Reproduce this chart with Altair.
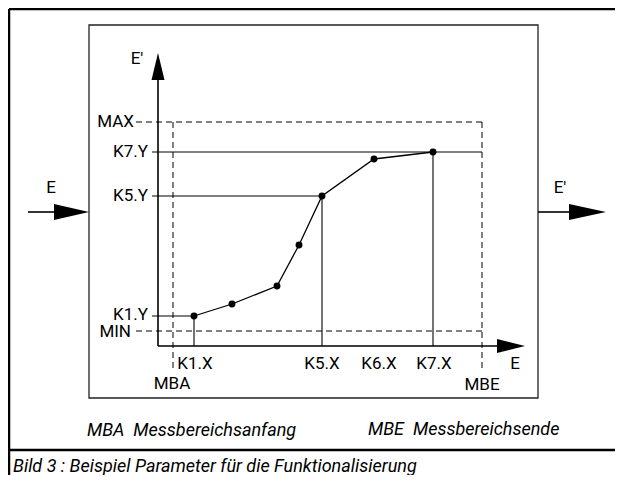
import altair as alt
import pandas as pd

# ---- chart coordinate system (diagram units, origin top-left) ----
W, H = 607, 467
X0, Y0 = 8, 8

# characteristic curve points K1..K7
curve_x = [194, 232, 277, 299, 322, 374, 433]
curve_y = [316, 304, 286, 245, 196, 159, 152]

# thin solid guide lines (x1, y1, x2, y2)
guide_x1 = [152, 152, 152, 194, 322, 433]
guide_y1 = [316, 196, 152, 316, 196, 152]
guide_x2 = [194, 322, 482, 194, 322, 433]
guide_y2 = [316, 196, 152, 346, 346, 346]

# axes and signal arrows shafts
axis_x1 = [158, 158, 28, 538]
axis_y1 = [346, 346, 212, 212]
axis_x2 = [158, 498, 54, 570]
axis_y2 = [80, 346, 212, 212]

# dashed limit lines MAX, MIN, MBA, MBE
dash_x1 = [136, 136, 173, 482]
dash_y1 = [122, 331, 122, 122]
dash_x2 = [482, 482, 173, 482]
dash_y2 = [122, 331, 370, 370]

# inner block box
box_x = [89]; box_y = [25]; box_x2 = [538]; box_y2 = [398]

# outer frame lines
frame_x1 = [9, 9, 9]
frame_y1 = [9, 9, 450]
frame_x2 = [9, 623, 623]
frame_y2 = [487, 9, 450]

# arrowheads pointing right: base x, tip x, centre y, half height
ah_base = [54, 569, 497]
ah_tip = [89, 606, 525]
ah_cy = [212, 212, 346]
ah_half = [8, 8, 7]
# arrowhead pointing up (E' axis)
av_base = 80; av_tip = 53; av_cx = 158; av_half = 6.5

# labels right aligned
rl_text = ["MAX", "K7.Y", "K5.Y", "K1.Y", "MIN"]
rl_x = [134, 148, 148, 148, 131]
rl_y = [122, 152, 196, 315, 332]
# labels centred
cl_text = ["E'", "E", "E'", "K1.X", "MBA", "K5.X", "K6.X", "K7.X", "E", "MBE"]
cl_x = [137, 51, 560, 195, 172, 322, 379, 434, 515, 482]
cl_y = [59, 188, 188, 364, 384, 364, 364, 364, 364, 385]
# italic notes
NB = "\u00a0"
it_text = ["MBA" + NB + " Messbereichsanfang", "MBE" + NB + " Messbereichsende",
           "Bild 3 : Beispiel Parameter für die Funktionalisierung"]
it_x = [87, 368, 13]
it_y = [431, 430, 467]

xs = alt.Scale(domain=[X0, X0 + W], nice=False, zero=False)
ys = alt.Scale(domain=[Y0, Y0 + H], nice=False, zero=False, reverse=True)

def X(f):
    return alt.X(f, type="quantitative", scale=xs, axis=None, stack=None)

def Y(f):
    return alt.Y(f, type="quantitative", scale=ys, axis=None, stack=None)

def segs(x1, y1, x2, y2):
    return pd.DataFrame({"x": x1, "y": y1, "x2": x2, "y2": y2})

FONT = "Roboto"
LS = 17   # label font size
IS = 18   # italic font size

frame = alt.Chart(segs(frame_x1, frame_y1, frame_x2, frame_y2)).mark_rule(
    color="black", strokeWidth=2.5).encode(x=X("x"), y=Y("y"), x2="x2", y2="y2")

box = alt.Chart(pd.DataFrame({"x": box_x, "y": box_y, "x2": box_x2, "y2": box_y2})).mark_rect(
    fill=None, stroke="#222222", strokeWidth=1.3).encode(
    x=X("x"), y=Y("y"), x2="x2", y2="y2")

dashed = alt.Chart(segs(dash_x1, dash_y1, dash_x2, dash_y2)).mark_rule(
    color="black", strokeWidth=1, strokeDash=[6, 4]).encode(
    x=X("x"), y=Y("y"), x2="x2", y2="y2")

guides = alt.Chart(segs(guide_x1, guide_y1, guide_x2, guide_y2)).mark_rule(
    color="black", strokeWidth=1.1).encode(
    x=X("x"), y=Y("y"), x2="x2", y2="y2")

axes = alt.Chart(segs(axis_x1, axis_y1, axis_x2, axis_y2)).mark_rule(
    color="black", strokeWidth=1.6).encode(
    x=X("x"), y=Y("y"), x2="x2", y2="y2")

heads = []
for i in range(len(ah_base)):
    d = pd.DataFrame({"x": [ah_base[i], ah_tip[i]],
                      "lo": [ah_cy[i] - ah_half[i], ah_cy[i]],
                      "hi": [ah_cy[i] + ah_half[i], ah_cy[i]]})
    heads.append(alt.Chart(d).mark_area(color="black", orient="vertical",
                                        interpolate="linear", opacity=1).encode(
        x=X("x"), y=Y("lo"), y2="hi"))

vd = pd.DataFrame({"y": [av_base, av_tip], "lo": [av_cx - av_half, av_cx],
                   "hi": [av_cx + av_half, av_cx]})
heads.append(alt.Chart(vd).mark_area(color="black", orient="horizontal", opacity=1).encode(
    y=Y("y"), x=X("lo"), x2="hi"))

cdf = pd.DataFrame({"x": curve_x, "y": curve_y, "i": list(range(len(curve_x)))})
curve = alt.Chart(cdf).mark_line(color="black", strokeWidth=1.3).encode(
    x=X("x"), y=Y("y"), order="i:Q")
dots = alt.Chart(cdf).mark_point(filled=True, color="black", size=48, opacity=1).encode(
    x=X("x"), y=Y("y"))

rlab = alt.Chart(pd.DataFrame({"x": rl_x, "y": rl_y, "t": rl_text})).mark_text(
    align="right", baseline="middle", font=FONT, fontSize=LS, color="black").encode(
    x=X("x"), y=Y("y"), text="t:N")
clab = alt.Chart(pd.DataFrame({"x": cl_x, "y": cl_y, "t": cl_text})).mark_text(
    align="center", baseline="middle", font=FONT, fontSize=LS, color="black").encode(
    x=X("x"), y=Y("y"), text="t:N")
ilab = alt.Chart(pd.DataFrame({"x": it_x, "y": it_y, "t": it_text})).mark_text(
    align="left", baseline="middle", font=FONT, fontSize=IS, fontStyle="italic", color="black").encode(
    x=X("x"), y=Y("y"), text="t:N")

chart = alt.layer(frame, box, dashed, guides, axes, *heads, curve, dots,
                  rlab, clab, ilab).properties(
    width=W, height=H, padding=0, autosize=alt.AutoSizeParams(type="none"),
    background="white"
).configure_view(stroke=None)

chart.save("out.html", embed_options={"renderer": "svg", "actions": False})
